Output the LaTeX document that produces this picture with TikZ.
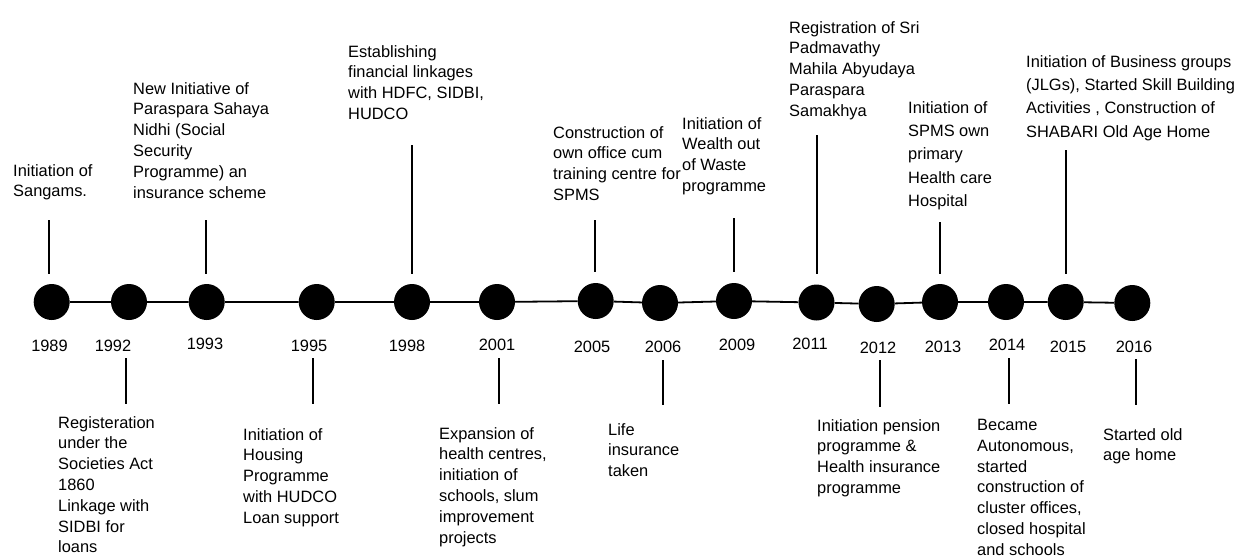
\documentclass[tikz,border=0pt]{standalone}
\usepackage{fontspec}
\setmainfont{Liberation Sans}
\newcommand{\evfont}{\fontsize{16.4}{20.8}\selectfont}
\newcommand{\evfontwide}{\fontsize{16.4}{23.4}\selectfont}

\begin{document}
\begin{tikzpicture}[x=1pt, y=-1pt,
    dot/.style={circle, fill=black, minimum size=36pt, inner sep=0pt},
    year/.style={anchor=base, inner sep=0pt, font=\evfont},
    event/.style={anchor=north west, align=left, inner sep=0pt, font=\evfont},
    stem/.style={line width=1.8pt}]
  \useasboundingbox (0,0) rectangle (1246,558);

  % dots on the time line
  \node[dot] (D1989) at (51.7,302) {};
  \node[dot] (D1992) at (129,302) {};
  \node[dot] (D1993) at (206.7,302) {};
  \node[dot] (D1995) at (316.7,302) {};
  \node[dot] (D1998) at (412,302) {};
  \node[dot] (D2001) at (497,302) {};
  \node[dot] (D2005) at (595.7,301) {};
  \node[dot] (D2006) at (660,303) {};
  \node[dot] (D2009) at (734,301) {};
  \node[dot] (D2011) at (816.5,302.5) {};
  \node[dot] (D2012) at (876.7,304) {};
  \node[dot] (D2013) at (940,302) {};
  \node[dot] (D2014) at (1006,302) {};
  \node[dot] (D2015) at (1065.7,302) {};
  \node[dot] (D2016) at (1132.3,303) {};
  \draw[stem] (D1989) -- (D1992) -- (D1993) -- (D1995) -- (D1998) -- (D2001)
    -- (D2005) -- (D2006) -- (D2009) -- (D2011) -- (D2012) -- (D2013)
    -- (D2014) -- (D2015) -- (D2016);

  % years
  \node[year] (Y1989) at (49.5,351) {1989};
  \node[year] (Y1992) at (113,351) {1992};
  \node[year] (Y1993) at (205,349) {1993};
  \node[year] (Y1995) at (309,351) {1995};
  \node[year] (Y1998) at (407,351) {1998};
  \node[year] (Y2001) at (497,350) {2001};
  \node[year] (Y2005) at (592,352) {2005};
  \node[year] (Y2006) at (663,352) {2006};
  \node[year] (Y2009) at (737,350) {2009};
  \node[year] (Y2011) at (810,349) {2011};
  \node[year] (Y2012) at (878,353) {2012};
  \node[year] (Y2013) at (943,352) {2013};
  \node[year] (Y2014) at (1007,350) {2014};
  \node[year] (Y2015) at (1068,352) {2015};
  \node[year] (Y2016) at (1134,352) {2016};

  % events above the line
  \node[event] (E1989) at (13,164) {Initiation of\\Sangams.};
  \node[event] (E1993) at (133,82) {New Initiative of\\Paraspara Sahaya\\Nidhi (Social\\Security\\Programme) an\\insurance scheme};
  \node[event] (E1998) at (348,45) {Establishing\\financial linkages\\with HDFC, SIDBI,\\HUDCO};
  \node[event] (E2005) at (553,126) {Construction of\\own office cum\\training centre for\\SPMS};
  \node[event] (E2009) at (682,117) {Initiation of\\Wealth out\\of Waste\\programme};
  \node[event] (E2011) at (789,21) {Registration of Sri\\Padmavathy\\Mahila Abyudaya\\Paraspara\\Samakhya};
  \node[event, font=\evfontwide] (E2013) at (908,101) {Initiation of\\SPMS own\\primary\\Health care\\Hospital};
  \node[event, font=\evfontwide] (E2015) at (1026,55) {Initiation of Business groups\\(JLGs), Started Skill Building\\Activities , Construction of\\SHABARI Old Age Home};

  % events below the line
  \node[event] (E1992) at (58,416) {Registeration\\under the\\Societies Act\\1860\\Linkage with\\SIDBI for\\loans};
  \node[event] (E1995) at (243,428) {Initiation of\\Housing\\Programme\\with HUDCO\\Loan support};
  \node[event] (E2001) at (439,427) {Expansion of\\health centres,\\initiation of\\schools, slum\\improvement\\projects};
  \node[event] (E2006) at (608,423) {Life\\insurance\\taken};
  \node[event] (E2012) at (817,419) {Initiation pension\\programme \&\\Health insurance\\programme};
  \node[event] (E2014) at (977,419) {Became\\Autonomous,\\started\\construction of\\cluster offices,\\closed hospital\\and schools};
  \node[event] (E2016) at (1103,428) {Started old\\age home};

  % stems
  \foreach \n/\x/\a/\b in {1989/49/220/274, 1993/206/220/274, 1998/412/145/274,
      2005/595/220/272, 2009/734/218/272, 2011/817/135/274, 2013/940/222/274,
      2015/1066/150/274, 1992/126/358/404, 1995/313/358/404, 2001/499/358/404,
      2006/663/360/405, 2012/880/360/407, 2014/1009/358/404, 2016/1136/359/405}
  {
    \coordinate (P\n) at (\x,\a);
    \coordinate (Q\n) at (\x,\b);
    \draw[stem] (P\n) -- (Q\n);
  }
\end{tikzpicture}
\end{document}
